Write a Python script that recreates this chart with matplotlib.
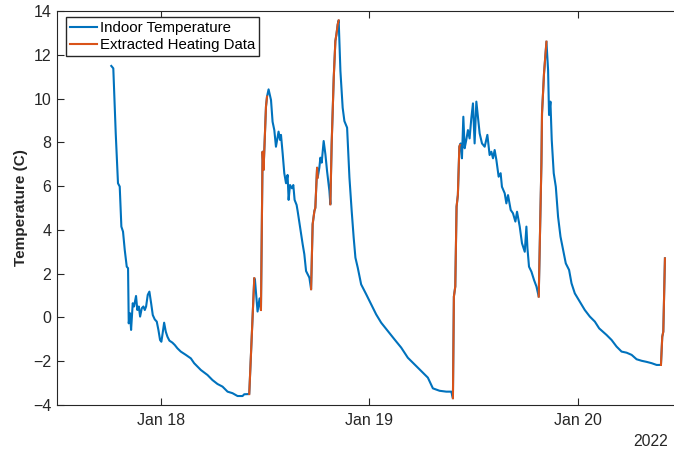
import datetime as dt
import numpy as np
import matplotlib
matplotlib.use('Agg')
import matplotlib.pyplot as plt
import matplotlib.dates as mdates

plt.rcParams['font.family'] = ['Liberation Sans', 'DejaVu Sans']

# hours since 2022-01-17 00:00, indoor temperature (C)
indoor_h = [18.26, 18.49, 18.77, 19.03, 19.23, 19.42, 19.61, 19.81, 20.04, 20.19,
            20.27, 20.42, 20.54, 20.73, 20.88, 21.11, 21.26, 21.43, 21.58, 21.77,
            21.96, 22.12, 22.27, 22.46, 22.65, 22.85, 23.04, 23.27, 23.50, 23.69,
            23.88, 24.03, 24.15, 24.35, 24.54, 24.73, 24.96, 25.30, 25.58, 25.88,
            26.27, 26.85, 27.43, 27.81, 28.58, 29.35, 29.92, 30.50, 31.08, 31.66,
            32.23, 32.81, 33.39, 33.58, 34.16, 34.74, 34.82, 35.12, 35.35, 35.51,
            35.70, 35.81, 36.09, 36.21, 36.39, 36.67, 36.85, 37.05, 37.24, 37.54,
            37.71, 37.82, 38.01, 38.20, 38.40, 38.58, 38.70, 38.86, 39.09, 39.24,
            39.39, 39.62, 39.74, 40.32, 40.51, 40.71, 41.09, 41.29, 41.47, 41.67,
            41.78, 41.98, 42.05, 42.24, 42.36, 42.51, 42.74, 42.94, 43.13, 43.40,
            43.51, 43.66, 43.90, 44.09, 44.21, 44.36, 44.47, 44.67, 44.93, 45.13,
            45.44, 45.71, 45.97, 46.20, 46.40, 46.67, 47.06, 47.64, 48.21, 48.79,
            49.37, 50.13, 50.90, 51.68, 52.44, 53.21, 53.99, 54.75, 55.33, 56.10,
            56.87, 57.45, 57.64, 57.75, 57.91, 58.06, 58.21, 58.38, 58.45, 58.53,
            58.68, 58.84, 58.99, 59.18, 59.37, 59.56, 59.76, 59.95, 60.14, 60.34,
            60.52, 60.72, 60.99, 61.30, 61.61, 61.87, 62.07, 62.26, 62.45, 62.65,
            62.91, 63.14, 63.29, 63.61, 63.80, 63.99, 64.30, 64.56, 64.84, 65.03,
            65.34, 65.60, 65.92, 66.11, 66.23, 66.41, 66.69, 66.99, 67.27, 67.53,
            67.84, 67.91, 68.14, 68.42, 68.61, 68.72, 68.88, 69.03, 69.26, 69.50,
            69.76, 70.04, 70.34, 70.65, 71.03, 71.31, 71.69, 72.27, 72.84, 73.42,
            74.00, 74.50, 75.35, 75.93, 76.50, 77.08, 77.66, 78.24, 78.81, 79.39,
            79.97, 80.55, 81.12, 81.62, 81.77, 81.89, 82.08]
indoor_t = [11.49, 11.38, 8.41, 6.13, 5.98, 4.15, 3.92, 3.08, 2.32, 2.25,
            -0.27, 0.19, -0.57, 0.65, 0.50, 0.98, 0.34, 0.50, 0.04, 0.42,
            0.50, 0.34, 0.50, 1.03, 1.18, 0.65, 0.11, -0.09, -0.19, -0.57,
            -1.03, -1.11, -0.80, -0.24, -0.65, -0.88, -1.06, -1.15, -1.26, -1.41,
            -1.56, -1.71, -1.87, -2.09, -2.40, -2.63, -2.86, -3.04, -3.16, -3.39,
            -3.46, -3.59, -3.59, -3.51, -3.50, 1.79, 1.71, 0.27, 0.87, 0.34,
            7.57, 6.74, 9.63, 10.09, 10.42, 9.93, 8.94, 8.56, 7.80, 8.49,
            8.11, 8.34, 7.50, 6.59, 6.13, 6.51, 5.37, 6.05, 5.90, 6.05,
            5.37, 5.14, 4.86, 3.34, 2.89, 2.12, 1.82, 1.29, 4.26, 4.86,
            5.01, 6.84, 6.39, 6.84, 7.30, 7.07, 8.06, 7.45, 6.69, 5.78,
            5.17, 7.91, 10.95, 12.63, 12.93, 13.39, 13.57, 11.26, 9.58, 8.97,
            8.67, 6.39, 4.86, 3.64, 2.73, 2.27, 1.51, 1.06, 0.60, 0.14,
            -0.24, -0.62, -1.00, -1.38, -1.84, -2.14, -2.45, -2.75, -3.24, -3.35,
            -3.39, -3.39, -3.69, 0.95, 1.41, 5.06, 5.59, 7.80, 7.88, 7.95,
            7.27, 9.17, 7.73, 8.11, 8.56, 8.18, 9.10, 9.78, 7.95, 9.86,
            9.17, 8.41, 7.95, 7.80, 8.34, 7.42, 7.57, 7.27, 7.65, 7.19,
            6.43, 6.59, 5.97, 5.67, 5.21, 5.59, 4.91, 4.76, 4.38, 4.83,
            4.15, 3.39, 3.00, 4.15, 3.16, 2.32, 2.09, 1.71, 1.41, 0.95,
            7.04, 9.33, 11.15, 12.60, 11.30, 9.25, 9.86, 8.11, 6.59, 5.97,
            4.60, 3.69, 3.08, 2.47, 2.17, 1.56, 1.10, 0.72, 0.34, 0.04,
            -0.19, -0.50, -0.80, -1.03, -1.33, -1.56, -1.61, -1.71, -1.91, -1.98,
            -2.03, -2.09, -2.17, -2.17, -0.88, -0.65, 2.70]

# extracted heating periods (NaN separates periods)
heat_h = [34.16, 34.74, np.nan,
          35.51, 35.70, 35.81, 36.09, 36.21, np.nan,
          41.29, 41.47, 41.67, 41.78, 41.98, 42.05, np.nan,
          43.51, 43.66, 43.90, 44.09, 44.21, 44.36, 44.47, np.nan,
          57.64, 57.75, 57.91, 58.06, 58.21, 58.38, 58.45, np.nan,
          67.53, 67.84, 67.91, 68.14, 68.42, np.nan,
          81.62, 81.77, 81.89, 82.08]
heat_t = [-3.50, 1.79, np.nan,
          0.34, 7.57, 6.74, 9.63, 10.09, np.nan,
          1.29, 4.26, 4.86, 5.01, 6.84, 6.39, np.nan,
          5.17, 7.91, 10.95, 12.63, 12.93, 13.39, 13.57, np.nan,
          -3.69, 0.95, 1.41, 5.06, 5.59, 7.80, 7.88, np.nan,
          0.95, 7.04, 9.33, 11.15, 12.60, np.nan,
          -2.17, -0.88, -0.65, 2.70]

t0 = dt.datetime(2022, 1, 17)

indoor_dates = [t0 + dt.timedelta(hours=h) for h in indoor_h]
heat_dates = [t0 + dt.timedelta(hours=h) for h in np.nan_to_num(heat_h)]
heat_vals = np.array(heat_t, dtype=float)

fig = plt.figure(figsize=(6.74, 4.5), dpi=100)
ax = fig.add_axes([57 / 674, 45 / 450, 624.6 / 674, 394 / 450])

ax.plot(indoor_dates, indoor_t, color='#0072BD', lw=1.5, label='Indoor Temperature')
ax.plot(heat_dates, heat_vals, color='#D95319', lw=1.5, label='Extracted Heating Data')

ax.set_xlim(t0 + dt.timedelta(hours=12), t0 + dt.timedelta(hours=84))
ax.set_ylim(-4, 14)
ax.set_yticks(np.arange(-4, 15, 2))
ax.xaxis.set_major_locator(mdates.DayLocator())
ax.xaxis.set_major_formatter(mdates.DateFormatter('%b %d'))

ax.tick_params(direction='in', length=5, width=0.8, colors='#262626',
               labelsize=11.5, top=True, right=True)
ax.tick_params(axis='x', pad=6)
ax.tick_params(axis='y', pad=4)
for sp in ax.spines.values():
    sp.set_color('#262626')
    sp.set_linewidth(0.8)

ax.set_ylabel('Temperature (C)', fontsize=11, fontweight='bold', color='#262626')
ax.yaxis.set_label_coords(-0.047, 0.5)

leg = ax.legend(loc='upper left', bbox_to_anchor=(9 / 624.6, 1 - 6 / 394),
                borderaxespad=0, fontsize=10.8, handlelength=1.8, handletextpad=0.2,
                borderpad=0.25, labelspacing=0.2, fancybox=False, framealpha=1)
leg.get_frame().set_edgecolor('#262626')
leg.get_frame().set_linewidth(1.0)

fig.text(668 / 674, 9 / 450, '2022', ha='right', va='center', fontsize=11.3, color='#262626')

fig.savefig('out.png', dpi=100)
